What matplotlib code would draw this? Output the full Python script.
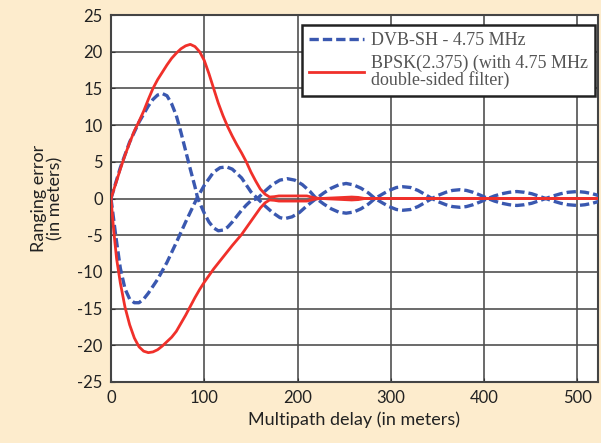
import matplotlib
matplotlib.use("Agg")
import matplotlib.pyplot as plt

plt.rcParams['axes.unicode_minus'] = False

# ---- data ----
dvb_a_x = [0, 10, 20, 30, 40, 45, 50, 55, 60, 65, 70, 75, 80, 85, 90, 93, 100, 105, 110, 115, 120, 125,
           130, 135, 140, 145, 150, 157, 165, 173, 181, 189, 197, 205, 213, 220, 228, 236, 244, 252, 260,
           268, 276, 283, 291, 298, 306, 313, 321, 329, 336, 344, 351, 359, 366, 374, 381, 388, 396, 404,
           411, 419, 427, 435, 443, 451, 458, 466, 474, 482, 490, 500, 508, 516, 524, 530]
dvb_a_y = [0, 4.2, 7.7, 10.4, 12.6, 13.5, 14.1, 14.3, 14.0, 12.9, 11.3, 9.0, 6.5, 4.0, 1.6, 0, -2.0, -3.2,
           -4.0, -4.4, -4.3, -3.9, -3.2, -2.4, -1.6, -0.9, -0.3, 0, 1.0, 1.9, 2.5, 2.7, 2.5, 1.9, 1.0, 0,
           -0.75, -1.4, -1.85, -2.0, -1.85, -1.4, -0.75, 0, 0.6, 1.1, 1.5, 1.6, 1.5, 1.1, 0.6, 0, -0.45,
           -0.85, -1.1, -1.2, -1.1, -0.85, -0.45, 0, 0.35, 0.65, 0.85, 0.95, 0.85, 0.65, 0.35, 0, -0.35,
           -0.65, -0.85, -0.95, -0.85, -0.65, -0.35, 0]

dvb_b_x = [0, 5, 10, 15, 20, 25, 30, 35, 40, 50, 60, 70, 80, 92, 100, 110, 117, 124, 130, 140, 150, 157,
           165, 173, 181, 186, 194, 202, 210, 220, 228, 236, 244, 252, 260, 268, 276, 283, 291, 298, 306,
           313, 321, 329, 336, 344, 351, 359, 366, 374, 381, 388, 396, 404, 411, 419, 427, 435, 443, 451,
           458, 466, 474, 482, 490, 500, 508, 516, 524, 530]
dvb_b_y = [0, -5.0, -9.5, -12.3, -13.7, -14.2, -14.2, -13.7, -12.9, -11.0, -8.7, -6.0, -3.2, 0, 1.8, 3.6,
           4.2, 4.3, 4.0, 2.8, 0.9, 0, -1.0, -1.9, -2.6, -2.75, -2.5, -1.9, -1.0, 0, 0.75, 1.4, 1.85, 2.05,
           1.85, 1.4, 0.75, 0, -0.6, -1.1, -1.5, -1.6, -1.5, -1.1, -0.6, 0, 0.45, 0.85, 1.1, 1.2, 1.1,
           0.85, 0.45, 0, -0.35, -0.65, -0.85, -0.95, -0.85, -0.65, -0.35, 0, 0.35, 0.65, 0.85, 0.95, 0.85,
           0.65, 0.35, 0]

bpsk_up_x = [0, 5, 10, 15, 20, 25, 30, 35, 40, 45, 50, 55, 60, 65, 70, 75, 80, 85, 90, 95, 100, 105, 110,
             115, 120, 125, 130, 135, 140, 145, 150, 155, 160, 165, 170, 175, 180, 210, 218, 225, 250, 258,
             265, 272, 530]
bpsk_up_y = [0, 2.0, 4.0, 5.9, 7.6, 9.2, 10.5, 11.9, 13.5, 15.0, 16.2, 17.2, 18.2, 19.1, 19.8, 20.4, 20.8,
             21.0, 20.7, 20.0, 18.8, 17.0, 15.0, 13.0, 11.3, 9.8, 8.5, 7.3, 6.2, 5.0, 3.6, 2.4, 1.3, 0.6,
             0.2, 0.25, 0.35, 0.35, 0.1, 0, 0.15, 0.2, 0.15, 0, 0]

bpsk_lo_x = [0, 3, 6, 10, 15, 20, 25, 30, 35, 40, 45, 50, 55, 60, 65, 70, 75, 80, 85, 90, 95, 100, 110,
             120, 130, 140, 150, 160, 165, 170, 175, 180, 210, 218, 225, 250, 258, 265, 272, 530]
bpsk_lo_y = [0, -4.5, -8.2, -11.5, -14.8, -17.2, -19.0, -20.2, -20.8, -21.0, -20.9, -20.6, -20.1, -19.5,
             -18.9, -18.1, -17.0, -15.9, -14.7, -13.5, -12.4, -11.4, -9.6, -8.0, -6.4, -4.9, -3.1, -1.3,
             -0.6, -0.2, -0.25, -0.35, -0.35, -0.1, 0, -0.15, -0.2, -0.15, 0, 0]

x_ticks = [0, 100, 200, 300, 400, 500]
y_ticks = [-25, -20, -15, -10, -5, 0, 5, 10, 15, 20, 25]

label_dvb = "DVB-SH - 4.75 MHz"
label_bpsk = "BPSK(2.375) (with 4.75 MHz\ndouble-sided filter)"

# ---- figure ----
bg = "#FDECCD"
fig = plt.figure(figsize=(6.01, 4.43), dpi=100, facecolor=bg)
ax = fig.add_axes([111/601, 1-382/443, (598-111)/601, (382-15)/443])
ax.set_facecolor("white")

blue = "#3A58B0"
red = "#F0302A"
dash = (0, (2.8, 1.2))
l1, = ax.plot(dvb_a_x, dvb_a_y, color=blue, lw=2.4, linestyle=dash, zorder=3)
ax.plot(dvb_b_x, dvb_b_y, color=blue, lw=2.4, linestyle=dash, zorder=3)
l2, = ax.plot(bpsk_up_x, bpsk_up_y, color=red, lw=2.0, zorder=4)
ax.plot(bpsk_lo_x, bpsk_lo_y, color=red, lw=2.0, zorder=4)

ax.set_xlim(0, 522)
ax.set_ylim(-25, 25)
ax.set_xticks(x_ticks)
ax.set_yticks(y_ticks)
ax.grid(True, color="#505050", lw=1.2, zorder=1)
ax.set_axisbelow(True)
for s in ax.spines.values():
    s.set_color("#444444")
    s.set_linewidth(1.5)
ax.tick_params(direction="in", length=3, color="#333333", labelsize=12, labelcolor="#222222", pad=6)
for lab in ax.get_xticklabels() + ax.get_yticklabels():
    lab.set_family("Lato")

ax.set_xlabel("Multipath delay (in meters)", fontsize=13, family="Lato", color="#222222", labelpad=4)
ax.set_ylabel("Ranging error\n(in meters)", fontsize=13, family="Lato", color="#222222", labelpad=10,
              linespacing=1.0)

leg = ax.legend([l1, l2], [label_dvb, label_bpsk], loc="upper right",
                bbox_to_anchor=(0.994, 0.973), fancybox=False, framealpha=1,
                edgecolor="#222222", prop={"family": "Liberation Serif", "size": 13},
                handlelength=3.0, borderpad=0.4, labelspacing=0.3, handletextpad=0.4,
                borderaxespad=0)
leg.get_frame().set_linewidth(1.8)
for t in leg.get_texts():
    t.set_color("#555555")
    t.set_linespacing(0.95)

fig.savefig("out.png", dpi=100, facecolor=bg)
